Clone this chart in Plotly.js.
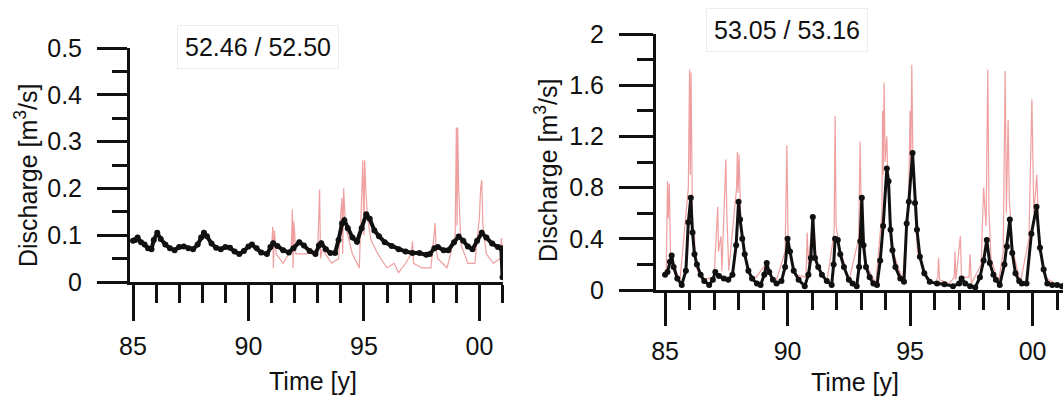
<!DOCTYPE html>
<html>
<head>
<meta charset="utf-8">
<script src="https://cdn.plot.ly/plotly-3.0.1.min.js"></script>
<style>html,body{margin:0;padding:0;background:#fff;}#chart{width:1063px;height:396px;}</style>
</head>
<body>
<div id="chart"></div>
<script>
// ---- Data (years as decimal years) ----
const leftTitle = "52.46 / 52.50";
const rightTitle = "53.05 / 53.16";
const xTitle = "Time [y]";
const yTitle = "Discharge [m<sup>3</sup>/s]";
const xTickVals = [1985, 1990, 1995, 2000];
const xTickText = ["85", "90", "95", "00"];
const xMinorVals = [1986,1987,1988,1989,1991,1992,1993,1994,1996,1997,1998,1999,2001];
const leftYTicks = [0, 0.1, 0.2, 0.3, 0.4, 0.5];
const leftYTickText = ["0", "0.1", "0.2", "0.3", "0.4", "0.5"];
const leftYMinor = [0.05, 0.15, 0.25, 0.35, 0.45];
const rightYTicks = [0, 0.4, 0.8, 1.2, 1.6, 2];
const rightYTickText = ["0", "0.4", "0.8", "1.2", "1.6", "2"];
const rightYMinor = [0.2, 0.6, 1.0, 1.4, 1.8];

// Left panel, observed (black)
const leftObsX = [1985.00,1985.10,1985.20,1985.35,1985.50,1985.65,1985.80,1985.90,1986.05,1986.20,1986.40,1986.60,1986.80,1987.00,1987.20,1987.40,1987.60,1987.80,1987.95,1988.07,1988.20,1988.40,1988.60,1988.80,1989.00,1989.20,1989.40,1989.60,1989.80,1990.00,1990.15,1990.35,1990.55,1990.80,1990.95,1991.07,1991.25,1991.50,1991.75,1991.95,1992.20,1992.40,1992.65,1992.90,1993.05,1993.15,1993.35,1993.55,1993.75,1993.90,1994.05,1994.15,1994.30,1994.50,1994.70,1994.90,1995.10,1995.25,1995.45,1995.65,1995.90,1996.20,1996.50,1996.80,1997.10,1997.40,1997.70,1997.85,1998.05,1998.20,1998.45,1998.65,1998.90,1999.10,1999.30,1999.50,1999.70,1999.90,2000.10,2000.30,2000.55,2000.80,2000.95,2001.00];
const leftObsY = [0.088,0.090,0.095,0.085,0.080,0.072,0.070,0.090,0.105,0.092,0.080,0.072,0.068,0.075,0.076,0.072,0.070,0.080,0.095,0.105,0.098,0.082,0.073,0.070,0.075,0.073,0.065,0.060,0.066,0.076,0.080,0.072,0.063,0.060,0.075,0.083,0.077,0.068,0.063,0.072,0.085,0.078,0.066,0.060,0.078,0.083,0.070,0.062,0.062,0.090,0.125,0.132,0.115,0.095,0.086,0.115,0.145,0.135,0.110,0.098,0.085,0.077,0.070,0.065,0.062,0.062,0.058,0.060,0.072,0.075,0.068,0.068,0.085,0.097,0.088,0.076,0.070,0.088,0.105,0.095,0.082,0.075,0.072,0.010];

// Left panel, simulated (red)
const leftSimX = [1991.00,1991.05,1991.08,1991.12,1991.20,1991.50,1991.85,1991.90,1991.93,1991.97,1992.05,1992.50,1993.00,1993.08,1993.12,1993.20,1993.60,1993.90,1994.00,1994.05,1994.08,1994.12,1994.20,1994.50,1994.80,1994.90,1994.95,1995.00,1995.03,1995.08,1995.15,1995.30,1995.60,1996.00,1996.30,1996.50,1996.80,1997.05,1997.10,1997.15,1997.50,1997.90,1998.00,1998.08,1998.12,1998.20,1998.60,1998.95,1999.00,1999.03,1999.06,1999.10,1999.20,1999.50,1999.80,2000.00,2000.05,2000.10,2000.15,2000.30,2000.60,2000.90,2000.95,2001.00];
const leftSimY = [0.070,0.118,0.030,0.110,0.060,0.040,0.070,0.155,0.030,0.130,0.060,0.060,0.070,0.197,0.050,0.070,0.040,0.050,0.150,0.180,0.060,0.200,0.120,0.060,0.030,0.200,0.260,0.100,0.260,0.200,0.140,0.090,0.060,0.030,0.040,0.020,0.040,0.060,0.087,0.040,0.030,0.030,0.080,0.126,0.070,0.050,0.030,0.100,0.330,0.120,0.330,0.200,0.080,0.040,0.040,0.140,0.200,0.218,0.120,0.060,0.040,0.050,0.094,0.060];

// Right panel, observed (black)
const rightObsX = [1985.00,1985.10,1985.20,1985.27,1985.35,1985.50,1985.68,1985.85,1985.95,1986.05,1986.12,1986.20,1986.30,1986.45,1986.60,1986.80,1986.95,1987.05,1987.20,1987.40,1987.58,1987.75,1987.90,1988.00,1988.06,1988.15,1988.25,1988.40,1988.55,1988.75,1988.90,1989.05,1989.15,1989.25,1989.40,1989.55,1989.75,1989.90,1990.00,1990.10,1990.25,1990.45,1990.70,1990.85,1990.95,1991.03,1991.12,1991.25,1991.40,1991.60,1991.80,1991.88,1991.94,1992.05,1992.15,1992.30,1992.50,1992.65,1992.82,1992.92,1992.97,1993.03,1993.10,1993.20,1993.35,1993.50,1993.65,1993.78,1993.90,1994.05,1994.12,1994.20,1994.28,1994.40,1994.60,1994.75,1994.86,1994.95,1995.10,1995.20,1995.28,1995.40,1995.58,1995.80,1996.10,1996.40,1996.75,1997.00,1997.10,1997.25,1997.45,1997.66,1997.85,1998.00,1998.13,1998.25,1998.40,1998.50,1998.66,1998.85,1998.95,1999.07,1999.17,1999.30,1999.45,1999.56,1999.75,1999.95,2000.16,2000.30,2000.45,2000.60,2000.80,2001.00,2001.20];
const rightObsY = [0.12,0.14,0.22,0.27,0.18,0.09,0.04,0.15,0.53,0.72,0.45,0.28,0.20,0.12,0.07,0.04,0.08,0.14,0.11,0.09,0.08,0.12,0.35,0.69,0.55,0.40,0.28,0.15,0.09,0.05,0.04,0.12,0.21,0.14,0.08,0.05,0.07,0.18,0.40,0.30,0.15,0.08,0.03,0.12,0.25,0.57,0.25,0.18,0.12,0.07,0.04,0.20,0.40,0.39,0.28,0.18,0.08,0.05,0.03,0.18,0.38,0.72,0.35,0.18,0.10,0.05,0.04,0.23,0.50,0.95,0.85,0.47,0.31,0.18,0.09,0.065,0.52,0.69,1.07,0.68,0.47,0.26,0.13,0.065,0.05,0.045,0.03,0.05,0.09,0.05,0.03,0.02,0.10,0.23,0.39,0.21,0.12,0.08,0.04,0.20,0.34,0.55,0.29,0.13,0.07,0.05,0.05,0.44,0.65,0.33,0.16,0.05,0.04,0.04,0.03];

// Right panel, simulated (red)
const rightSimX = [1985.05,1985.10,1985.13,1985.17,1985.22,1985.60,1985.95,1986.00,1986.03,1986.06,1986.12,1986.20,1986.22,1986.50,1987.00,1987.15,1987.18,1987.28,1987.32,1987.48,1987.52,1987.60,1987.92,1987.95,1987.98,1988.02,1988.08,1988.20,1988.60,1989.10,1989.50,1989.90,1989.97,1990.02,1990.30,1990.75,1990.80,1990.85,1991.02,1991.20,1991.60,1991.90,1991.94,1991.98,1992.10,1992.50,1992.90,1992.96,1993.00,1993.20,1993.60,1993.85,1993.88,1993.90,1993.94,1993.98,1994.05,1994.10,1994.30,1994.70,1994.95,1995.00,1995.03,1995.07,1995.12,1995.30,1995.70,1996.00,1996.13,1996.16,1996.20,1996.60,1996.80,1996.83,1996.87,1997.00,1997.05,1997.10,1997.40,1997.45,1997.50,1997.90,1998.00,1998.10,1998.17,1998.22,1998.30,1998.60,1998.80,1998.88,1998.93,1999.00,1999.05,1999.20,1999.50,1999.85,1999.97,2000.05,2000.17,2000.25,2000.50,2000.90,2001.20];
const rightSimY = [0.15,0.85,0.56,0.83,0.30,0.06,0.80,1.72,0.90,1.70,0.50,0.45,0.20,0.08,0.10,0.65,0.30,0.42,0.15,1.02,0.60,0.15,0.80,1.08,0.76,1.06,0.60,0.30,0.07,0.20,0.05,0.30,1.13,0.35,0.12,0.10,0.45,0.20,0.55,0.20,0.06,0.45,1.36,0.50,0.35,0.07,0.40,1.16,0.70,0.20,0.05,0.60,1.40,0.90,1.62,1.00,1.20,0.80,0.30,0.07,0.80,1.40,1.00,1.76,0.90,0.30,0.08,0.05,0.10,0.25,0.08,0.05,0.10,0.30,0.08,0.35,0.42,0.10,0.10,0.28,0.05,0.20,0.80,0.50,1.72,0.60,0.25,0.05,0.30,1.71,0.60,1.33,0.70,0.30,0.06,0.40,1.49,0.60,0.90,0.40,0.10,0.05,0.04];

// ---- Styles ----
const FONT = "Liberation Sans, Arial, sans-serif";
const FS = 25;
const W = 1063, H = 396;
const fx = p => p / W, fy = p => 1 - p / H;
const simStyle = {color: "rgba(225,80,80,0.55)", width: 1.2};
const txtFont = {family: FONT, size: FS, color: "#111"};

const traces = [
  {x: leftSimX, y: leftSimY, xaxis: "x", yaxis: "y", mode: "lines", line: simStyle, name: "sim", hoverinfo: "skip"},
  {x: leftObsX, y: leftObsY, xaxis: "x", yaxis: "y", mode: "lines+markers", line: {color: "#111", width: 4}, marker: {color: "#111", size: 6}, name: "obs"},
  {x: rightSimX, y: rightSimY, xaxis: "x2", yaxis: "y2", mode: "lines", line: simStyle, name: "sim", hoverinfo: "skip"},
  {x: rightObsX, y: rightObsY, xaxis: "x2", yaxis: "y2", mode: "lines+markers", line: {color: "#111", width: 3}, marker: {color: "#111", size: 6}, name: "obs"}
];

function xAxis(domain, range, len, minorLen, anchor) {
  return {
    domain: domain, range: range, anchor: anchor,
    showgrid: false, zeroline: false,
    showline: true, linecolor: "#111", linewidth: 3,
    tickmode: "array", tickvals: xTickVals, ticktext: xTickText,
    ticks: "outside", ticklen: len, tickwidth: 3, tickcolor: "#111",
    minor: {tickmode: "array", tickvals: xMinorVals, ticks: "outside", ticklen: minorLen, tickwidth: 3, tickcolor: "#111", showgrid: false},
    tickfont: txtFont, ticklabelstandoff: 4
  };
}
function yAxis(domain, range, vals, txt, minorVals, len, minorLen, anchor) {
  return {
    domain: domain, range: range, anchor: anchor,
    showgrid: false, zeroline: false,
    showline: true, linecolor: "#111", linewidth: 3,
    tickmode: "array", tickvals: vals, ticktext: txt,
    ticks: "outside", ticklen: len, tickwidth: 3, tickcolor: "#111",
    minor: {tickmode: "array", tickvals: minorVals, ticks: "outside", ticklen: minorLen, tickwidth: 3, tickcolor: "#111", showgrid: false},
    tickfont: txtFont, ticklabelstandoff: 10
  };
}
function label(text, px, py, angle, box) {
  const a = {text: text, xref: "paper", yref: "paper", x: fx(px), y: fy(py), xanchor: "center", yanchor: "middle",
    showarrow: false, textangle: angle, font: txtFont};
  if (box) { a.bgcolor = "#fff"; a.bordercolor = "rgba(0,0,0,0.07)"; a.borderwidth = 1; a.borderpad = 7; }
  return a;
}

const layout = {
  width: W, height: H,
  margin: {l: 0, r: 0, t: 0, b: 0},
  paper_bgcolor: "#fff", plot_bgcolor: "rgba(0,0,0,0)",
  showlegend: false,
  xaxis: xAxis([fx(130), fx(503)], [1984.87, 2001.02], 36, 18, "y"),
  yaxis: yAxis([fy(282), fy(48)], [0, 0.5], leftYTicks, leftYTickText, leftYMinor, 30, 15, "x"),
  xaxis2: xAxis([fx(656), 1], [1984.63, 2001.24], 33, 17, "y2"),
  yaxis2: yAxis([fy(290), fy(34)], [0, 2], rightYTicks, rightYTickText, rightYMinor, 34, 16, "x2"),
  annotations: [
    label(leftTitle, 258, 47, 0, true),
    label(rightTitle, 787, 30, 0, true),
    label(xTitle, 313, 381, 0, false),
    label(xTitle, 855, 382, 0, false),
    label(yTitle, 26, 176, -90, false),
    label(yTitle, 546, 171, -90, false)
  ]
};

Plotly.newPlot("chart", traces, layout, {displayModeBar: false, staticPlot: true});
</script>
</body>
</html>
